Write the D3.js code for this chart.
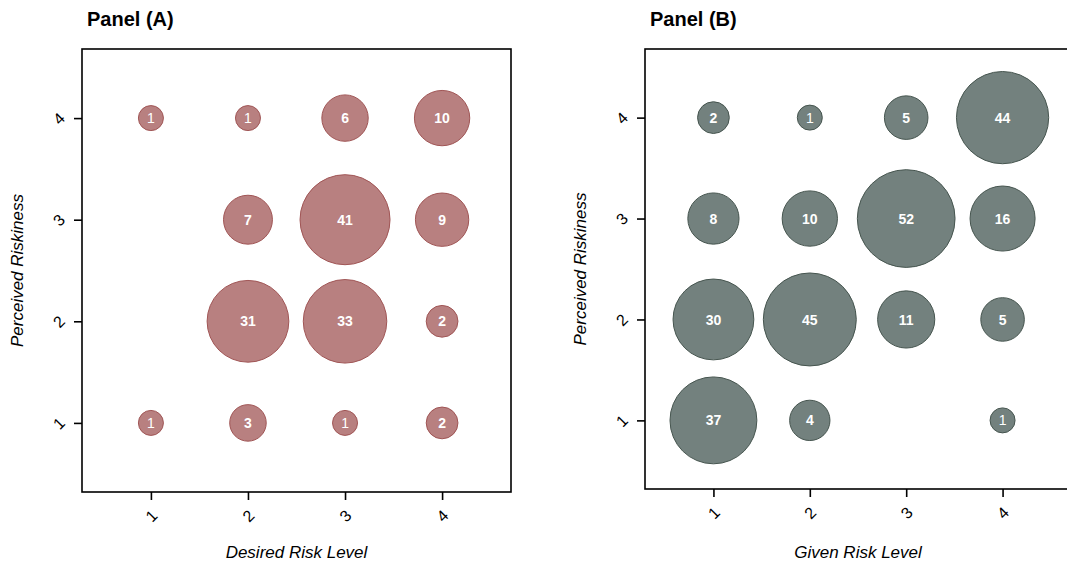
<!DOCTYPE html>
<html><head><meta charset="utf-8">
<script src="https://cdn.jsdelivr.net/npm/d3@7"></script>
<style>body{margin:0;background:#fff}svg{display:block;font-family:"Liberation Sans",Arial,sans-serif}</style>
</head><body><svg id="c" width="1067" height="565"></svg>
<script>
const levels = [1, 2, 3, 4];
const tickLabels = ["1", "2", "3", "4"];
// Panel A: rows = perceived riskiness (y), columns = desired risk level (x)
const panelA_y4 = [1, 1, 6, 10];
const panelA_y3 = [0, 7, 41, 9];
const panelA_y2 = [0, 31, 33, 2];
const panelA_y1 = [1, 3, 1, 2];
// Panel B: rows = perceived riskiness (y), columns = given risk level (x)
const panelB_y4 = [2, 1, 5, 44];
const panelB_y3 = [8, 10, 52, 16];
const panelB_y2 = [30, 45, 11, 5];
const panelB_y1 = [37, 4, 0, 1];

function toCells(rows) {
  const out = [];
  rows.forEach(([y, vals]) => vals.forEach((v, i) => { if (v > 0) out.push({x: levels[i], y, v}); }));
  return out;
}
const cellsA = toCells([[4, panelA_y4], [3, panelA_y3], [2, panelA_y2], [1, panelA_y1]]);
const cellsB = toCells([[4, panelB_y4], [3, panelB_y3], [2, panelB_y2], [1, panelB_y1]]);

const svg = d3.select("#c");
const rScale = d3.scalePow().exponent(0.345).domain([0, 1]).range([0, 12.5]);

function panel(cfg) {
  const g = svg.append("g");
  const x = d3.scaleLinear().domain([0.29, 4.71]).range([cfg.left, cfg.right]);
  const y = d3.scaleLinear().domain([0.32, 4.68]).range([cfg.bottom, cfg.top]);

  g.append("text").attr("x", cfg.left + 5).attr("y", 26)
    .attr("font-size", 20).attr("font-weight", "bold").text(cfg.title);

  g.append("rect").attr("x", cfg.left).attr("y", cfg.top)
    .attr("width", x(4.71) - cfg.left).attr("height", cfg.bottom - cfg.top)
    .attr("fill", "none").attr("stroke", "#000").attr("stroke-width", 1.6);

  const xa = g.append("g").attr("transform", `translate(0,${cfg.bottom})`)
    .call(d3.axisBottom(x).tickValues(levels).tickFormat((d, i) => tickLabels[i]).tickSize(8).tickPadding(0));
  xa.select(".domain").remove();
  xa.selectAll("line").attr("stroke-width", 1.6);
  xa.selectAll("text").attr("font-size", 16).attr("font-family", "Liberation Sans, Arial")
    .attr("dy", null).attr("y", 24).attr("text-anchor", "middle").attr("dominant-baseline", "central")
    .attr("transform", "rotate(-45,0,24)");

  const ya = g.append("g").attr("transform", `translate(${cfg.left},0)`)
    .call(d3.axisLeft(y).tickValues(levels).tickFormat((d, i) => tickLabels[i]).tickSize(8).tickPadding(0));
  ya.select(".domain").remove();
  ya.selectAll("line").attr("stroke-width", 1.6);
  ya.selectAll("text").attr("font-size", 16).attr("font-family", "Liberation Sans, Arial")
    .attr("dy", null).attr("x", -23).attr("text-anchor", "middle").attr("dominant-baseline", "central")
    .attr("transform", "rotate(-45,-23,0)");

  g.append("text").attr("x", (cfg.left + x(4.71)) / 2).attr("y", 558)
    .attr("text-anchor", "middle").attr("font-size", 17).attr("font-style", "italic").text(cfg.xTitle);
  g.append("text").attr("transform", `translate(${cfg.left - 59},${(cfg.top + cfg.bottom) / 2}) rotate(-90)`)
    .attr("text-anchor", "middle").attr("font-size", 17).attr("font-style", "italic").text("Perceived Riskiness");

  const b = g.append("g").selectAll("g").data(cfg.cells).join("g")
    .attr("transform", d => `translate(${x(d.x)},${y(d.y)})`);
  b.append("circle").attr("r", d => rScale(d.v))
    .attr("fill", cfg.fill).attr("stroke", cfg.stroke).attr("stroke-width", 1);
  b.append("text").attr("text-anchor", "middle").attr("dy", "0.36em")
    .attr("fill", "#fff").attr("font-size", 14)
    .attr("font-weight", d => d.v === 1 ? "normal" : "bold")
    .text(d => d.v);
}

panel({title: "Panel (A)", left: 82, right: 511, top: 49, bottom: 492,
  xTitle: "Desired Risk Level", cells: cellsA, fill: "#b88080", stroke: "#a05555"});
panel({title: "Panel (B)", left: 645, right: 1071, top: 49, bottom: 489,
  xTitle: "Given Risk Level", cells: cellsB, fill: "#73817e", stroke: "#46554f"});
</script></body></html>
